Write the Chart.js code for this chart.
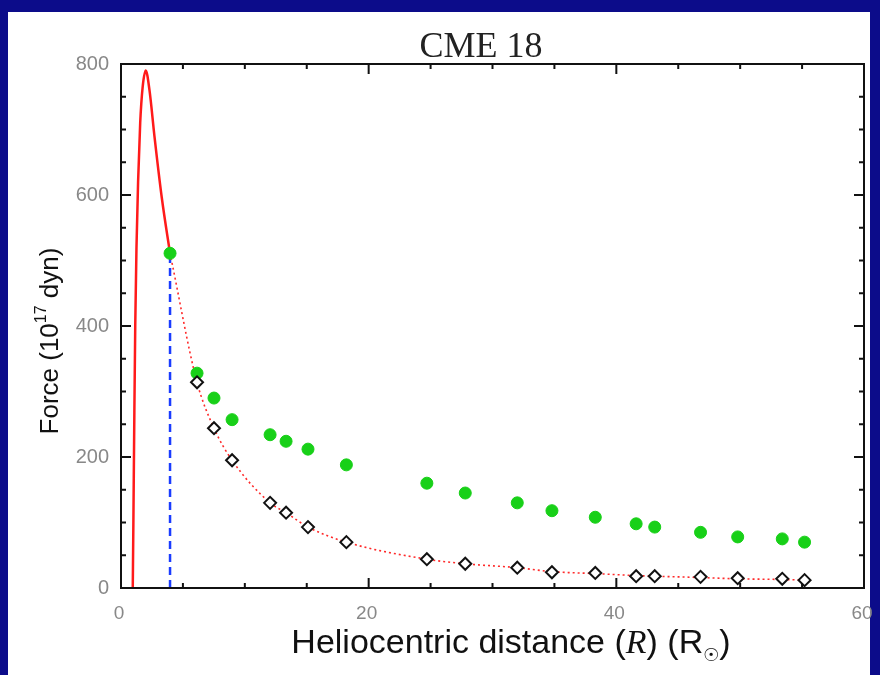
<!DOCTYPE html>
<html>
<head>
<meta charset="utf-8">
<script src="https://cdn.jsdelivr.net/npm/chart.js@4.4.1/dist/chart.umd.min.js"></script>
<style>
  html, body { margin: 0; padding: 0; background: #0c0c8a; }
  canvas { display: block; }
</style>
</head>
<body>
<canvas id="cme" width="880" height="675"></canvas>
<script>
/* ---- data ---- */
const titleText = "CME 18";
const xTicks = [0, 20, 40, 60];
const yTicks = [0, 200, 400, 600, 800];

// solid red curve (inner part)
const innerR = [0.95, 1.0, 1.07, 1.15, 1.25, 1.38, 1.55, 1.75, 2.0, 2.3, 2.7, 3.3, 3.96];
const innerF = [0, 100, 250, 400, 520, 620, 710, 765, 790, 760, 690, 595, 511];

// blue dashed marker
const markR = [3.96, 3.96];
const markF = [0, 511];

// green dots
const greenR = [3.96, 6.14, 7.51, 8.97, 12.04, 13.33, 15.1, 18.2, 24.7, 27.8, 32.0, 34.8, 38.3, 41.6, 43.1, 46.8, 49.8, 53.4, 55.2];
const greenF = [511, 328, 290, 257, 234, 224, 212, 188, 160, 145, 130, 118, 108, 98, 93, 85, 78, 75, 70];

// diamonds
const diamR = [6.14, 7.51, 8.97, 12.04, 13.33, 15.1, 18.2, 24.7, 27.8, 32.0, 34.8, 38.3, 41.6, 43.1, 46.8, 49.8, 53.4, 55.2];
const diamF = [314, 244, 195, 130, 115, 93, 70, 44, 37, 31, 24, 23, 18, 18, 17, 15, 14, 12];

// dotted red fit
const fitR = [3.96, 6.14, 7.51, 8.97, 12.04, 13.33, 15.1, 18.2, 24.7, 27.8, 32.0, 34.8, 38.3, 41.6, 43.1, 46.8, 49.8, 53.4, 55.2];
const fitF = [511, 314, 244, 195, 130, 115, 93, 70, 44, 37, 31, 25, 22, 19, 18, 16, 14, 13, 12];

const pts = (xs, ys) => xs.map((x, i) => ({ x: x, y: ys[i] }));

/* ---- background, frame, ticks, texts ---- */
const panel = {
    id: "panel",
    beforeDraw(chart) {
        const c = chart.ctx;
        c.save();
        c.fillStyle = "#0c0c8a";
        c.fillRect(0, 0, 880, 675);
        c.fillStyle = "#ffffff";
        c.fillRect(8, 12, 862, 663);
        c.restore();
    }
};

const frame = {
    id: "frame",
    afterDraw(chart) {
        const c = chart.ctx;
        const a = chart.chartArea;
        const sx = chart.scales.x, sy = chart.scales.y;
        c.save();
        c.strokeStyle = "#111";
        c.lineWidth = 2;
        c.strokeRect(a.left, a.top, a.right - a.left, a.bottom - a.top);

        // inward ticks
        c.beginPath();
        for (let v = 0; v <= 60; v += 5) {
            const px = sx.getPixelForValue(v);
            const len = v % 20 === 0 ? 10 : 5;
            c.moveTo(px, a.bottom); c.lineTo(px, a.bottom - len);
            c.moveTo(px, a.top); c.lineTo(px, a.top + len);
        }
        for (let v = 0; v <= 800; v += 50) {
            const py = sy.getPixelForValue(v);
            const len = v % 200 === 0 ? 10 : 5;
            c.moveTo(a.left, py); c.lineTo(a.left + len, py);
            c.moveTo(a.right, py); c.lineTo(a.right - len, py);
        }
        c.stroke();

        // title
        c.fillStyle = "#222";
        c.textAlign = "center";
        c.textBaseline = "alphabetic";
        c.font = "36px 'Liberation Serif'";
        c.fillText(titleText, 481, 57);

        // x title with italic R and solar subscript
        const parts = [
            { t: "Heliocentric distance (", f: "34px 'Liberation Sans'", dy: 0 },
            { t: "R", f: "italic 34px 'Liberation Serif'", dy: 0 },
            { t: ") (R", f: "34px 'Liberation Sans'", dy: 0 },
            { t: "\u2609", f: "18px 'DejaVu Sans'", dy: 8 },
            { t: ")", f: "34px 'Liberation Sans'", dy: 0 }
        ];
        let w = 0;
        parts.forEach(p => { c.font = p.f; p.w = c.measureText(p.t).width; w += p.w; });
        let x = 511 - w / 2;
        c.textAlign = "left";
        c.fillStyle = "#111";
        parts.forEach(p => { c.font = p.f; c.fillText(p.t, x, 653 + p.dy); x += p.w; });

        // y title, rotated
        const yp = [
            { t: "Force (10", f: "26px 'Liberation Sans'", dy: 0 },
            { t: "17", f: "16px 'Liberation Sans'", dy: -12 },
            { t: " dyn)", f: "26px 'Liberation Sans'", dy: 0 }
        ];
        let yw = 0;
        yp.forEach(p => { c.font = p.f; p.w = c.measureText(p.t).width; yw += p.w; });
        c.translate(58, 341);
        c.rotate(-Math.PI / 2);
        let yx = -yw / 2;
        yp.forEach(p => { c.font = p.f; c.fillText(p.t, yx, p.dy); yx += p.w; });
        c.restore();
    }
};

new Chart(document.getElementById("cme"), {
    type: "scatter",
    data: {
        datasets: [
            {
                label: "diamonds",
                data: pts(diamR, diamF),
                pointStyle: "rectRot",
                pointRadius: 6,
                borderColor: "#111",
                backgroundColor: "#fff",
                pointBorderWidth: 2,
                order: 1
            },
            {
                label: "green",
                data: pts(greenR, greenF),
                pointRadius: 6,
                borderColor: "#18d018",
                backgroundColor: "#18d018",
                order: 2
            },
            {
                label: "inner",
                data: pts(innerR, innerF),
                showLine: true,
                pointRadius: 0,
                borderColor: "#ff1a1a",
                borderWidth: 2.5,
                cubicInterpolationMode: "monotone",
                order: 5
            },
            {
                label: "mark",
                data: pts(markR, markF),
                showLine: true,
                pointRadius: 0,
                borderColor: "#1a3cff",
                borderWidth: 2.5,
                borderDash: [8, 5],
                order: 4
            },
            {
                label: "fit",
                data: pts(fitR, fitF),
                showLine: true,
                pointRadius: 0,
                borderColor: "#ff2a2a",
                borderWidth: 1.6,
                borderDash: [2, 3],
                cubicInterpolationMode: "monotone",
                order: 3
            }
        ]
    },
    options: {
        responsive: false,
        animation: false,
        layout: { autoPadding: false, padding: { top: 64, right: 16, left: 0, bottom: 0 } },
        plugins: { legend: { display: false }, tooltip: { enabled: false } },
        scales: {
            x: {
                type: "linear",
                min: 0, max: 60,
                afterBuildTicks: s => { s.ticks = xTicks.map(v => ({ value: v })); },
                afterFit: s => { s.height = 87; s.paddingLeft = 0; s.paddingRight = 0; },
                grid: { display: false, drawTicks: false },
                border: { display: false },
                ticks: { color: "#888", font: { family: "Liberation Sans", size: 19 }, padding: 14, maxRotation: 0, labelOffset: -2 }
            },
            y: {
                min: 0, max: 800,
                afterBuildTicks: s => { s.ticks = yTicks.map(v => ({ value: v })); },
                afterFit: s => { s.width = 121; s.paddingTop = 0; s.paddingBottom = 0; },
                grid: { display: false, drawTicks: false },
                border: { display: false },
                ticks: { color: "#888", font: { family: "Liberation Sans", size: 20 }, padding: 12 }
            }
        }
    },
    plugins: [panel, frame]
});
</script>
</body>
</html>
